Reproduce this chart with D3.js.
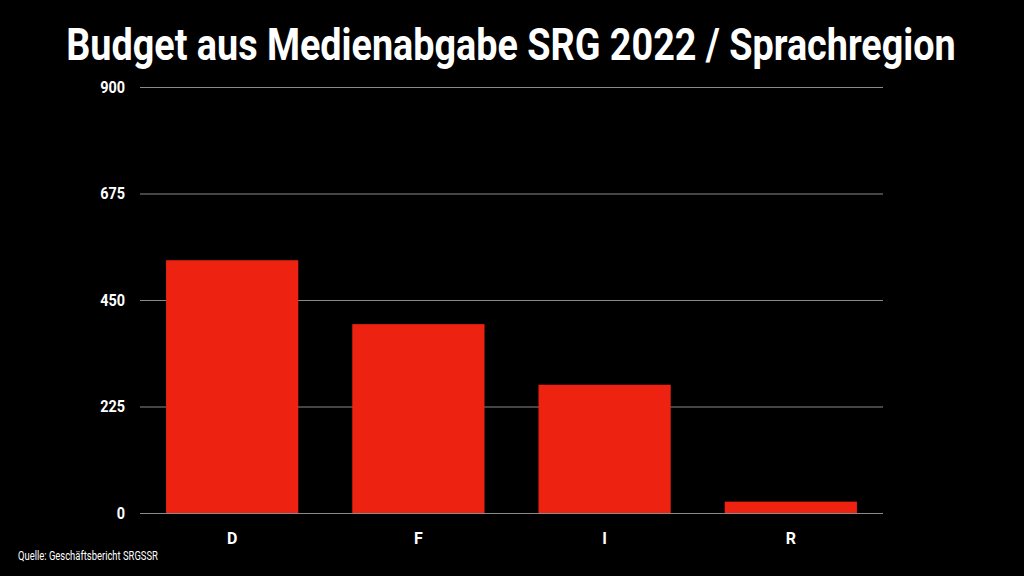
<!DOCTYPE html>
<html>
<head>
<meta charset="utf-8">
<script src="https://cdn.jsdelivr.net/npm/d3@7"></script>
<style>
  html, body { margin: 0; padding: 0; background: #000; }
  svg { display: block; }
  text { font-family: Roboto, "Liberation Sans", sans-serif; fill: #fff; }
</style>
</head>
<body>
<svg width="1024" height="576"></svg>
<script>
// data
var regions = ["D", "F", "I", "R"];
var budget = [534, 399, 271, 24];
var yTicks = [0, 225, 450, 675, 900];

var svg = d3.select("svg"),
    width = 1024,
    height = 576;

svg.append("rect").attr("width", width).attr("height", height).attr("fill", "#000");

var margin = { left: 140, right: 141, top: 87, bottom: 63 };

var x = d3.scaleBand()
    .domain(regions)
    .range([margin.left, width - margin.right])
    .paddingInner(0.29)
    .paddingOuter(0.14);

var y = d3.scaleLinear()
    .domain([0, 900])
    .range([height - margin.bottom, margin.top]);

// squeeze a text horizontally to a given width, centred/anchored at cx
function condense(sel, targetW, anchorX) {
    var w = sel.node().getComputedTextLength();
    var k = Math.min(1, targetW / w);
    sel.attr("transform", "translate(" + anchorX + ",0) scale(" + k + ",1) translate(" + (-anchorX) + ",0)");
}

// title
var title = svg.append("text")
    .attr("x", 511)
    .attr("y", 60)
    .attr("text-anchor", "middle")
    .attr("font-size", 45)
    .attr("font-weight", "bold")
    .text("Budget aus Medienabgabe SRG 2022 / Sprachregion");
condense(title, 890, 511);

// gridlines
svg.append("g")
    .selectAll("line")
    .data(yTicks)
    .enter().append("line")
    .attr("x1", margin.left)
    .attr("x2", width - margin.right)
    .attr("y1", d => y(d) + 0.5)
    .attr("y2", d => y(d) + 0.5)
    .attr("stroke", "#8a8a8a")
    .attr("stroke-width", 1);

// y tick labels
svg.append("g")
    .selectAll("text")
    .data(yTicks)
    .enter().append("text")
    .attr("x", 125)
    .attr("y", d => y(d) + 6)
    .attr("text-anchor", "end")
    .attr("font-size", 17)
    .attr("font-weight", "bold")
    .attr("transform", "translate(" + (125 * 0.15) + ",0) scale(0.85,1)")
    .text(d => d);

// bars
svg.append("g")
    .selectAll("rect")
    .data(regions)
    .enter().append("rect")
    .attr("x", d => x(d))
    .attr("width", x.bandwidth())
    .attr("y", (d, i) => y(budget[i]))
    .attr("height", (d, i) => y(0) - y(budget[i]))
    .attr("fill", "#ee2211");

// x labels
svg.append("g")
    .selectAll("text")
    .data(regions)
    .enter().append("text")
    .attr("x", d => x(d) + x.bandwidth() / 2)
    .attr("y", 544)
    .attr("text-anchor", "middle")
    .attr("font-size", 16)
    .attr("font-weight", "bold")
    .text(d => d);

// source
var source = svg.append("text")
    .attr("x", 18)
    .attr("y", 560)
    .attr("font-size", 12.5)
    .text("Quelle: Geschäftsbericht SRGSSR");
condense(source, 140, 18);
</script>
</body>
</html>
